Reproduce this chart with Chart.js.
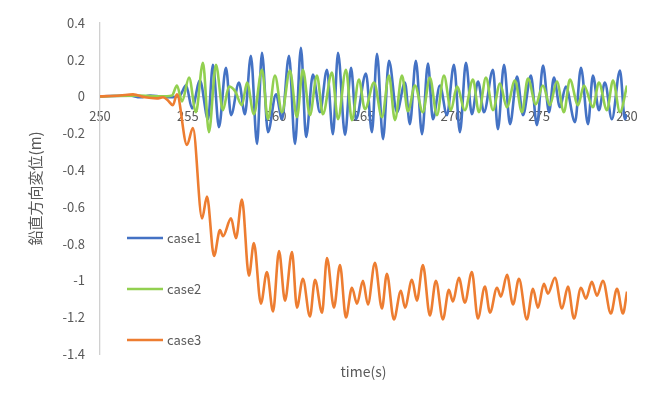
<!DOCTYPE html>
<html>
<head>
<meta charset="utf-8">
<script src="https://cdn.jsdelivr.net/npm/chart.js@4/dist/chart.umd.min.js"></script>
<style>
  html, body { margin: 0; padding: 0; background: #fff; }
</style>
</head>
<body>
<canvas id="chart" width="660" height="396"></canvas>
<script>
// peaks/troughs: [time (s), displacement (m)]
const case1 = [
  [250, 0], [251.71, 0.005], [252.28, -0.005], [252.85, 0.005], [253.41, 0], [253.98, -0.005],
  [254.55, 0.005], [254.9, 0.06], [255.24, -0.065], [255.69, 0.086], [256.15, -0.124], [256.43, 0.172],
  [256.77, -0.167], [257.17, 0.156], [257.46, -0.102], [257.91, 0.075], [258.25, -0.097], [258.59, 0.221],
  [258.94, -0.259], [259.22, 0.237], [259.56, -0.194], [260.02, 0.011], [260.36, -0.124], [260.76, 0.221],
  [261.1, -0.259], [261.44, 0.264], [261.73, -0.221], [262.12, 0.119], [262.52, -0.086], [262.92, 0.145],
  [263.26, -0.205], [263.55, 0.237], [263.95, -0.21], [264.29, 0.156], [264.57, -0.124], [265.14, 0.124],
  [265.48, -0.194], [265.77, 0.232], [266.11, -0.232], [266.45, 0.194], [266.9, -0.086], [267.36, 0.075],
  [267.64, -0.151], [267.98, 0.194], [268.33, -0.205], [268.67, 0.178], [268.95, -0.124], [269.35, 0.059],
  [269.75, -0.102], [270.15, 0.172], [270.49, -0.194], [270.83, 0.183], [271.17, -0.097], [271.52, 0.081],
  [271.86, -0.086], [272.37, 0.145], [272.65, -0.178], [273.0, 0.172], [273.34, -0.151], [273.74, 0.108],
  [274.08, -0.102], [274.53, 0.113], [274.87, -0.156], [275.22, 0.167], [275.56, -0.086], [275.84, 0.102],
  [276.18, -0.059], [276.52, 0.054], [277.04, -0.14], [277.38, 0.156], [277.78, -0.151], [278.06, 0.113],
  [278.4, -0.075], [278.74, 0.075], [279.14, -0.124], [279.6, 0.14], [279.88, -0.124], [280, -0.097],
];

const case2 = [
  [250, 0], [252.28, 0.005], [253.41, 0], [254.1, 0.005], [254.38, 0.059], [254.67, -0.027],
  [255.07, 0.102], [255.46, -0.086], [255.86, 0.183], [256.2, -0.194], [256.6, 0.172], [257.0, -0.075],
  [257.34, 0.054], [257.68, 0.03], [258.08, -0.048], [258.37, 0.075], [258.76, -0.097], [259.22, 0.145],
  [259.56, -0.124], [259.96, 0.113], [260.36, -0.086], [260.81, 0.14], [261.21, -0.113], [261.55, 0.145],
  [261.95, -0.102], [262.35, 0.113], [262.69, -0.097], [263.2, 0.129], [263.55, -0.124], [264.0, 0.145],
  [264.34, -0.129], [264.74, 0.092], [265.08, -0.07], [265.6, 0.075], [266.05, -0.113], [266.45, 0.113],
  [266.79, -0.129], [267.19, 0.113], [267.53, -0.081], [267.93, 0.059], [268.38, -0.086], [268.78, 0.102],
  [269.18, -0.102], [269.58, 0.113], [269.98, -0.075], [270.32, 0.054], [270.77, -0.075], [271.23, 0.092],
  [271.57, -0.086], [271.97, 0.102], [272.37, -0.075], [272.77, 0.07], [273.16, -0.059], [273.62, 0.086],
  [274.02, -0.086], [274.36, 0.097], [274.81, -0.043], [275.21, 0.059], [275.61, -0.048], [276.01, 0.081],
  [276.41, -0.086], [276.75, 0.092], [277.21, -0.048], [277.55, 0.059], [278.06, -0.059], [278.4, 0.075],
  [278.86, -0.075], [279.2, 0.086], [279.6, -0.086], [280, 0.059],
];

const case3 = [
  [250, 0], [251.14, 0.005], [251.88, 0.011], [252.56, -0.005], [253.24, -0.011], [253.59, -0.005],
  [253.87, -0.022], [254.15, -0.048], [254.38, 0.011], [254.95, -0.264], [255.29, -0.172], [255.81, -0.663],
  [256.09, -0.544], [256.49, -0.867], [256.83, -0.727], [257.0, -0.76], [257.46, -0.663], [257.74, -0.77],
  [258.08, -0.56], [258.48, -0.975], [258.76, -0.797], [259.16, -1.126], [259.5, -0.954], [259.85, -1.169],
  [260.19, -0.841], [260.53, -1.11], [260.93, -0.846], [261.21, -1.148], [261.55, -0.991], [261.95, -1.196],
  [262.24, -0.997], [262.64, -1.175], [262.92, -0.878], [263.32, -1.148], [263.66, -0.916], [264.0, -1.202],
  [264.34, -1.04], [264.63, -1.126], [264.97, -1.002], [265.25, -1.131], [265.65, -0.905], [266.05, -1.153],
  [266.33, -0.964], [266.73, -1.212], [267.13, -1.056], [267.36, -1.148], [267.76, -0.997], [268.04, -1.11],
  [268.38, -0.916], [268.78, -1.191], [269.12, -1.002], [269.52, -1.212], [269.86, -1.051], [270.09, -1.115],
  [270.43, -0.986], [270.77, -1.121], [271.17, -0.954], [271.51, -1.207], [271.91, -1.034], [272.2, -1.175],
  [272.6, -1.04], [272.82, -1.088], [273.17, -0.97], [273.51, -1.131], [273.85, -0.991], [274.3, -1.212],
  [274.65, -1.045], [274.93, -1.148], [275.27, -1.018], [275.5, -1.072], [275.9, -0.986], [276.3, -1.153],
  [276.64, -1.034], [276.98, -1.207], [277.38, -1.04], [277.66, -1.099], [278.0, -1.008], [278.29, -1.083],
  [278.63, -1.002], [279.08, -1.18], [279.43, -1.045], [279.77, -1.18], [280, -1.061],
];

const seriesNames = ['case1', 'case2', 'case3'];
const xRange = [250, 280, 5];
const yRange = [-1.4, 0.4, 0.2];

const FONT = '"Noto Sans CJK JP", "Noto Sans", sans-serif';
const TEXT = '#595959';
const AXIS = '#d0d0d0';

const toPoints = arr => arr.map(([x, y]) => ({ x, y }));

function lineSet(label, data, color, order) {
  return {
    label,
    data: toPoints(data),
    borderColor: color,
    backgroundColor: color,
    borderWidth: 2.6,
    pointRadius: 0,
    cubicInterpolationMode: 'monotone',
    fill: false,
    order,
  };
}

// Excel-style legend sitting inside the plot on the left
const sideLegend = {
  id: 'sideLegend',
  afterDraw(chart) {
    const ctx = chart.ctx;
    const rows = [238, 289, 340];
    chart.data.datasets.forEach((ds, i) => {
      const y = rows[i];
      ctx.save();
      ctx.strokeStyle = ds.borderColor;
      ctx.lineWidth = 2.6;
      ctx.beginPath();
      ctx.moveTo(127, y);
      ctx.lineTo(163, y);
      ctx.stroke();
      ctx.fillStyle = TEXT;
      ctx.font = '13px ' + FONT;
      ctx.textBaseline = 'middle';
      ctx.fillText(ds.label, 167, y);
      ctx.restore();
    });
  },
};

new Chart(document.getElementById('chart'), {
  type: 'line',
  data: {
    datasets: [
      lineSet(seriesNames[0], case1, '#4472c4', 3),
      lineSet(seriesNames[1], case2, '#92d050', 2),
      lineSet(seriesNames[2], case3, '#ed7d31', 1),
    ],
  },
  options: {
    responsive: false,
    animation: false,
    devicePixelRatio: 1,
    layout: { padding: { left: 22, right: 33, top: 20, bottom: 12 } },
    plugins: { legend: { display: false }, tooltip: { enabled: false } },
    scales: {
      x: {
        type: 'linear',
        position: { y: 0 },
        min: xRange[0], max: xRange[1],
        grid: { display: false, drawTicks: false },
        border: { display: true, color: AXIS, width: 1.3 },
        ticks: {
          stepSize: xRange[2], autoSkip: false, maxRotation: 0, padding: 12,
          color: TEXT, font: { family: FONT, size: 13 },
        },
      },
      x2: {
        type: 'linear',
        position: 'bottom',
        min: xRange[0], max: xRange[1],
        grid: { display: false, drawTicks: false },
        border: { display: false },
        ticks: { display: false },
        title: { display: true, text: 'time(s)', color: TEXT, font: { family: FONT, size: 14 } },
        afterFit: s => { s.height = 30; },
      },
      y: {
        position: 'left',
        min: yRange[0], max: yRange[1],
        grid: { display: false, drawTicks: false },
        border: { display: true, color: AXIS, width: 1.3 },
        ticks: {
          stepSize: yRange[2], padding: 15,
          color: TEXT, font: { family: FONT, size: 13 },
          callback: v => String(Math.round(v * 10) / 10),
        },
        title: { display: true, text: '鉛直方向変位(m)', color: TEXT, font: { family: FONT, size: 15 } },
        afterFit: s => { s.width = 78; },
      },
    },
  },
  plugins: [sideLegend],
});
</script>
</body>
</html>
